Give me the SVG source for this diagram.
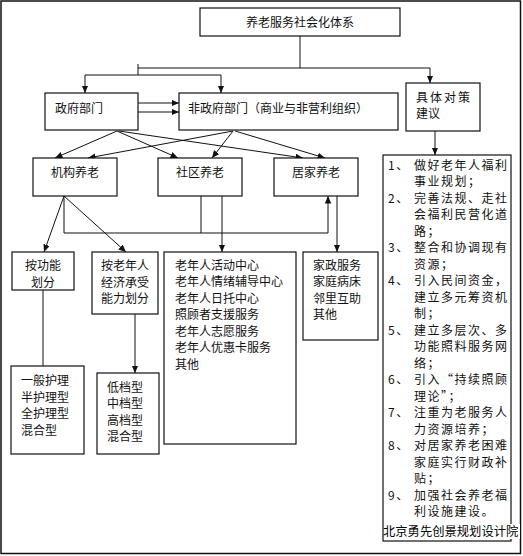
<svg xmlns="http://www.w3.org/2000/svg" width="523" height="556" viewBox="0 0 523 556">
<defs>
<marker id="ah" markerUnits="userSpaceOnUse" markerWidth="8" markerHeight="7" refX="7.5" refY="3.25" orient="auto">
<path d="M0,0 L7.5,3.25 L0,6.5 z" fill="#111"/>
</marker>
<style>
.box{fill:#fff;stroke:#111;stroke-width:1.2}
.ln{fill:none;stroke:#111;stroke-width:1}
.ar{fill:none;stroke:#111;stroke-width:1;marker-end:url(#ah)}
text{font-family:"Noto Sans CJK SC","Noto Sans CJK JP",sans-serif;font-size:12px;fill:#111}
.ls{letter-spacing:1.5px}
.c{text-anchor:middle}
.wm{font-size:12.3px;fill:#000}
</style>
</defs>
<rect x="1" y="1" width="519.5" height="552.5" fill="#fff" stroke="#111" stroke-width="1.5"/>
<g id="connectors">
<path class="ln" d="M300,36 V68 M138,68 H430 M138,64 V75 M85,75 H221"/>
<path class="ar" d="M430,68 V83"/>
<path class="ar" d="M85,75 V93"/>
<path class="ar" d="M221,75 V93"/>
<path class="ar" d="M138,103 H179"/>
<path class="ar" d="M138,112 H179"/>
<path class="ar" d="M435,131 V155"/>
<path class="ar" d="M117,131 L55,158"/>
<path class="ar" d="M117,131 L178,158"/>
<path class="ar" d="M119,131 L303,158"/>
<path class="ar" d="M233,131 L88,158"/>
<path class="ar" d="M233,131 L212,158"/>
<path class="ar" d="M235,131 L325,158"/>
<path class="ar" d="M64,196 L44,252"/>
<path class="ar" d="M64,196 L126,252"/>
<path class="ln" d="M64,196 V233 H328 M201,196 V233"/>
<path class="ar" d="M328,233 V196"/>
<path class="ar" d="M222,196 V252"/>
<path class="ar" d="M337,196 V252"/>
<path class="ln" d="M43,290 V366"/>
<path class="ar" d="M135,314 V373"/>
</g>
<g id="n-title"><rect class="box" x="200" y="8" width="200" height="28"/><text class="c" x="300" y="27">养老服务社会化体系</text></g>
<g id="n-gov"><rect class="box" x="45" y="93" width="93" height="37"/><text x="55" y="113">政府部门</text></g>
<g id="n-nongov"><rect class="box" x="179" y="93" width="219" height="37"/><text x="188" y="113">非政府部门（商业与非营利组织）</text></g>
<g id="n-policy"><rect class="box" x="406" y="83" width="74" height="48"/><text x="416" y="102" style="letter-spacing:2px">具体对策</text><text x="416" y="118">建议</text></g>
<g id="n-inst"><rect class="box" x="33" y="158" width="84" height="38"/><text class="c" x="75" y="177">机构养老</text></g>
<g id="n-comm"><rect class="box" x="158" y="158" width="84" height="38"/><text class="c" x="200" y="177">社区养老</text></g>
<g id="n-home"><rect class="box" x="274" y="158" width="84" height="38"/><text class="c" x="316" y="177">居家养老</text></g>
<g id="n-func"><rect class="box" x="12" y="252" width="62" height="38"/><text class="c" x="43" y="270">按功能</text><text class="c" x="43" y="287">划分</text></g>
<g id="n-econ"><rect class="box" x="92" y="252" width="66" height="62"/><text class="c" x="125" y="270">按老年人</text><text class="c" x="125" y="286.5">经济承受</text><text class="c" x="125" y="303">能力划分</text></g>
<g id="n-commlist"><rect class="box" x="164" y="252" width="132" height="192"/>
<text x="175" y="269.5">老年人活动中心</text><text x="175" y="286">老年人情绪辅导中心</text><text x="175" y="302.5">老年人日托中心</text><text x="175" y="319">照顾者支援服务</text><text x="175" y="335.5">老年人志愿服务</text><text x="175" y="352">老年人优惠卡服务</text><text x="175" y="368.5">其他</text></g>
<g id="n-homelist"><rect class="box" x="303" y="252" width="75" height="88"/>
<text x="313" y="269.5">家政服务</text><text x="313" y="286">家庭病床</text><text x="313" y="302.5">邻里互助</text><text x="313" y="319">其他</text></g>
<g id="n-care"><rect class="box" x="11" y="366" width="73" height="88"/>
<text x="21" y="385">一般护理</text><text x="21" y="401.5">半护理型</text><text x="21" y="418">全护理型</text><text x="21" y="434.5">混合型</text></g>
<g id="n-grade"><rect class="box" x="97" y="373" width="62" height="81"/>
<text x="107" y="391.5">低档型</text><text x="107" y="408">中档型</text><text x="107" y="424.5">高档型</text><text x="107" y="441">混合型</text></g>
<g id="n-suggest"><rect class="box" x="383" y="155" width="128" height="386"/>
<g class="ls">
<text x="388" y="169.5">1、</text><text x="414" y="169.5">做好老年人福利</text>
<text x="414" y="186">事业规划；</text>
<text x="388" y="202.5">2、</text><text x="414" y="202.5">完善法规、走社</text>
<text x="414" y="219">会福利民营化道</text>
<text x="414" y="235.5">路；</text>
<text x="388" y="252">3、</text><text x="414" y="252">整合和协调现有</text>
<text x="414" y="268.5">资源；</text>
<text x="388" y="285">4、</text><text x="414" y="285">引入民间资金，</text>
<text x="414" y="301.5">建立多元筹资机</text>
<text x="414" y="318">制；</text>
<text x="388" y="334.5">5、</text><text x="414" y="334.5">建立多层次、多</text>
<text x="414" y="351">功能照料服务网</text>
<text x="414" y="367.5">络；</text>
<text x="388" y="384">6、</text><text x="414" y="384">引入“持续照顾</text>
<text x="414" y="400.5">理论”；</text>
<text x="388" y="417">7、</text><text x="414" y="417">注重为老服务人</text>
<text x="414" y="433.5">力资源培养；</text>
<text x="388" y="450">8、</text><text x="414" y="450">对居家养老困难</text>
<text x="414" y="466.5">家庭实行财政补</text>
<text x="414" y="483">贴；</text>
<text x="388" y="499.5">9、</text><text x="414" y="499.5">加强社会养老福</text>
<text x="414" y="516">利设施建设。</text>
</g></g>
<rect x="384" y="524" width="136" height="15" fill="#fff"/>
<text class="wm" x="383" y="536">北京勇先创景规划设计院</text>
</svg>
